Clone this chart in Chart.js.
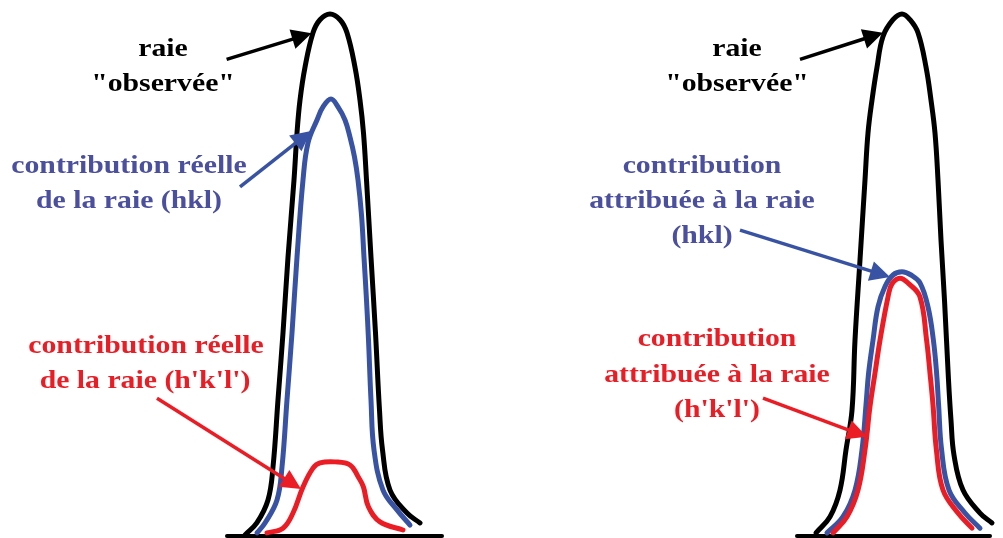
<!DOCTYPE html>
<html><head><meta charset="utf-8">
<script src="https://cdn.jsdelivr.net/npm/chart.js@4"></script>
<style>html,body{margin:0;padding:0;background:#fff;overflow:hidden}canvas{display:block}</style>
</head><body>
<canvas id="c" width="1003" height="538"></canvas>
<script>
// ---- Data (x = position, y = intensity) ----
const obsLeft = [[12.25,0.2],[12.84,2.5],[13.4,6.9],[13.65,13.2],[13.9,26.1],[14.15,38.9],[14.4,53.4],[14.7,68.2],[14.85,77.2],[15.0,83.5],[15.25,89.8],[15.65,96.4],[16.0,98.9],[16.5,100],[17.0,98.9],[17.35,96.4],[17.75,89.8],[18.0,83.5],[18.175,77.2],[18.325,68.2],[18.55,53.4],[18.775,38.9],[18.975,24.1],[19.125,16.5],[19.5,8.8],[20.35,4.4],[21.0,2.5]];
const hklLeft = [[12.85,0.6],[13.25,2.5],[13.85,6.9],[14.1,13.2],[14.35,26.1],[14.6,38.9],[14.85,53.4],[15.15,68.2],[15.4,75.3],[15.85,79.7],[16.15,82.2],[16.55,83.7],[16.9,82.2],[17.25,79.7],[17.5,76.4],[17.725,72.6],[17.9,68.2],[18.075,61.5],[18.2,53.4],[18.325,45.2],[18.425,37.55],[18.55,26.05],[18.7,16.5],[19.15,8.8],[19.85,5.0],[20.5,2.1]];
const hpkplpLeft = [[13.35,0.6],[14.15,1.5],[14.65,4.4],[15.15,9.4],[15.65,13.0],[16.0,14.0],[16.75,14.2],[17.5,13.6],[17.9,11.4],[18.17,9.4],[18.42,5.6],[19.0,2.7],[20.15,1.15]];
const obsRight = [[40.8,0.6],[41.5,3.7],[42.0,8.8],[42.3,16.5],[42.6,24.1],[42.75,37.5],[43.0,52.9],[43.25,68.2],[43.4,77.2],[43.6,83.5],[43.85,89.8],[44.15,95.7],[44.65,98.9],[45.1,100],[45.5,98.9],[45.9,96.4],[46.3,89.85],[46.55,83.5],[46.75,77.2],[46.9,68.2],[47.05,56.7],[47.225,45.2],[47.425,29.9],[47.55,22.2],[47.7,15.5],[48.15,8.8],[49.0,4.4],[49.6,2.5]];
const hklRight = [[41.35,0.6],[42.15,3.7],[42.75,8.8],[43.1,16.5],[43.3,25.1],[43.43,31.2],[43.65,37.5],[43.9,43.9],[44.25,47.8],[44.65,50.0],[45.1,50.6],[45.55,50.0],[46.0,48.5],[46.4,43.9],[46.67,37.5],[46.83,31.2],[46.93,25.1],[47.08,16.5],[47.45,8.8],[48.25,4.4],[49.0,1.5]];
const hpkplpRight = [[41.65,0.6],[42.35,3.7],[42.9,8.8],[43.25,16.5],[43.5,24.8],[43.75,31.2],[44.0,37.5],[44.4,45.8],[44.6,48.3],[45.0,49.4],[45.45,48.3],[46.0,45.8],[46.33,37.5],[46.5,31.2],[46.65,25.1],[46.82,16.5],[47.15,8.8],[47.9,4.4],[48.6,1.5]];
const baseLeft = [[11.35,0],[22.1,0]];
const baseRight = [[39.85,0],[49.5,0]];

// ---- Annotations (data coordinates) ----
const labelsLeft = [
  {t:'raie', x:8.15, y:91.95, c:'black'},
  {t:'"observée"', x:8.15, y:85.25, c:'black'},
  {t:'contribution réelle', x:6.45, y:69.5, c:'blueText'},
  {t:'de la raie (hkl)', x:6.45, y:62.8, c:'blueText'},
  {t:'contribution réelle', x:7.3, y:35.06, c:'red'},
  {t:"de la raie (h'k'l')", x:7.25, y:28.35, c:'red'}
];
const labelsRight = [
  {t:'raie', x:36.85, y:91.95, c:'black'},
  {t:'"observée"', x:36.85, y:85.25, c:'black'},
  {t:'contribution', x:35.1, y:69.5, c:'blueText'},
  {t:'attribuée à la raie', x:35.1, y:62.8, c:'blueText'},
  {t:'(hkl)', x:35.1, y:56.1, c:'blueText'},
  {t:'contribution', x:35.85, y:36.4, c:'red'},
  {t:'attribuée à la raie', x:35.85, y:29.56, c:'red'},
  {t:"(h'k'l')", x:35.85, y:22.85, c:'red'}
];
const arrows = [
  {from:[11.33,91.3], to:[15.58,96.3], c:'black'},
  {from:[12.0,66.9], to:[15.55,77.6], c:'blue'},
  {from:[7.85,26.4], to:[15.05,9.0], c:'red'},
  {from:[40.0,91.3], to:[44.15,96.4], c:'black'},
  {from:[37.0,58.6], to:[44.5,49.6], c:'blue'},
  {from:[38.15,26.4], to:[43.35,19.0], c:'red'}
];

const COLORS = {black:'#000000', blue:'#3853a4', blueText:'#4b4f9f', red:'#ec1c24'};

const pts = a => a.map(p => ({x:p[0], y:p[1]}));
function ds(label, arr, color, width, order){
  return {label, data:pts(arr), borderColor:color, borderWidth:width, pointRadius:0,
          tension:0.4, fill:false, order, clip:false, borderJoinStyle:'round', borderCapStyle:'round'};
}

function drawArrow(ctx, x1, y1, x2, y2, color){
  const L = 20, W = 10;
  const ang = Math.atan2(y2-y1, x2-x1);
  const bx = x2 - L*Math.cos(ang), by = y2 - L*Math.sin(ang);
  ctx.strokeStyle = color; ctx.fillStyle = color; ctx.lineWidth = 3.5; ctx.lineCap='butt';
  ctx.beginPath(); ctx.moveTo(x1,y1); ctx.lineTo(bx + 2*Math.cos(ang), by + 2*Math.sin(ang)); ctx.stroke();
  ctx.beginPath();
  ctx.moveTo(x2,y2);
  ctx.lineTo(bx + W*Math.sin(ang), by - W*Math.cos(ang));
  ctx.lineTo(bx - W*Math.sin(ang), by + W*Math.cos(ang));
  ctx.closePath(); ctx.fill();
}

const annot = {
  id:'annot',
  afterDatasetsDraw(chart){
    const {ctx, scales:{x, y}} = chart;
    ctx.save();
    for (const a of arrows){
      drawArrow(ctx, x.getPixelForValue(a.from[0]), y.getPixelForValue(a.from[1]),
                x.getPixelForValue(a.to[0]), y.getPixelForValue(a.to[1]), COLORS[a.c]);
    }
    ctx.font = 'bold 25px "Liberation Serif", "Times New Roman", serif';
    ctx.textAlign = 'center'; ctx.textBaseline = 'alphabetic';
    for (const l of labelsLeft.concat(labelsRight)){
      ctx.save();
      ctx.fillStyle = COLORS[l.c];
      ctx.translate(x.getPixelForValue(l.x), y.getPixelForValue(l.y));
      ctx.scale(1.19, 1);
      ctx.fillText(l.t, 0, 0);
      ctx.restore();
    }
    ctx.restore();
  }
};

new Chart(document.getElementById('c'), {
  type:'line',
  data:{datasets:[
    ds('contribution (h\'k\'l\') gauche', hpkplpLeft, COLORS.red, 5, 1),
    ds('contribution (h\'k\'l\') droite', hpkplpRight, COLORS.red, 5, 1),
    ds('contribution (hkl) gauche', hklLeft, COLORS.blue, 5, 2),
    ds('contribution (hkl) droite', hklRight, COLORS.blue, 5, 2),
    ds('raie observée gauche', obsLeft, COLORS.black, 5, 3),
    ds('raie observée droite', obsRight, COLORS.black, 5, 3),
    ds('ligne de base gauche', baseLeft, COLORS.black, 4, 4),
    ds('ligne de base droite', baseRight, COLORS.black, 4, 4)
  ]},
  options:{
    responsive:false, animation:false, events:[],
    layout:{padding:0},
    plugins:{legend:{display:false}, tooltip:{enabled:false}},
    scales:{
      x:{type:'linear', min:0, max:50.15, display:false},
      y:{type:'linear', min:-0.383, max:102.68, display:false}
    }
  },
  plugins:[annot]
});
</script>
</body></html>
